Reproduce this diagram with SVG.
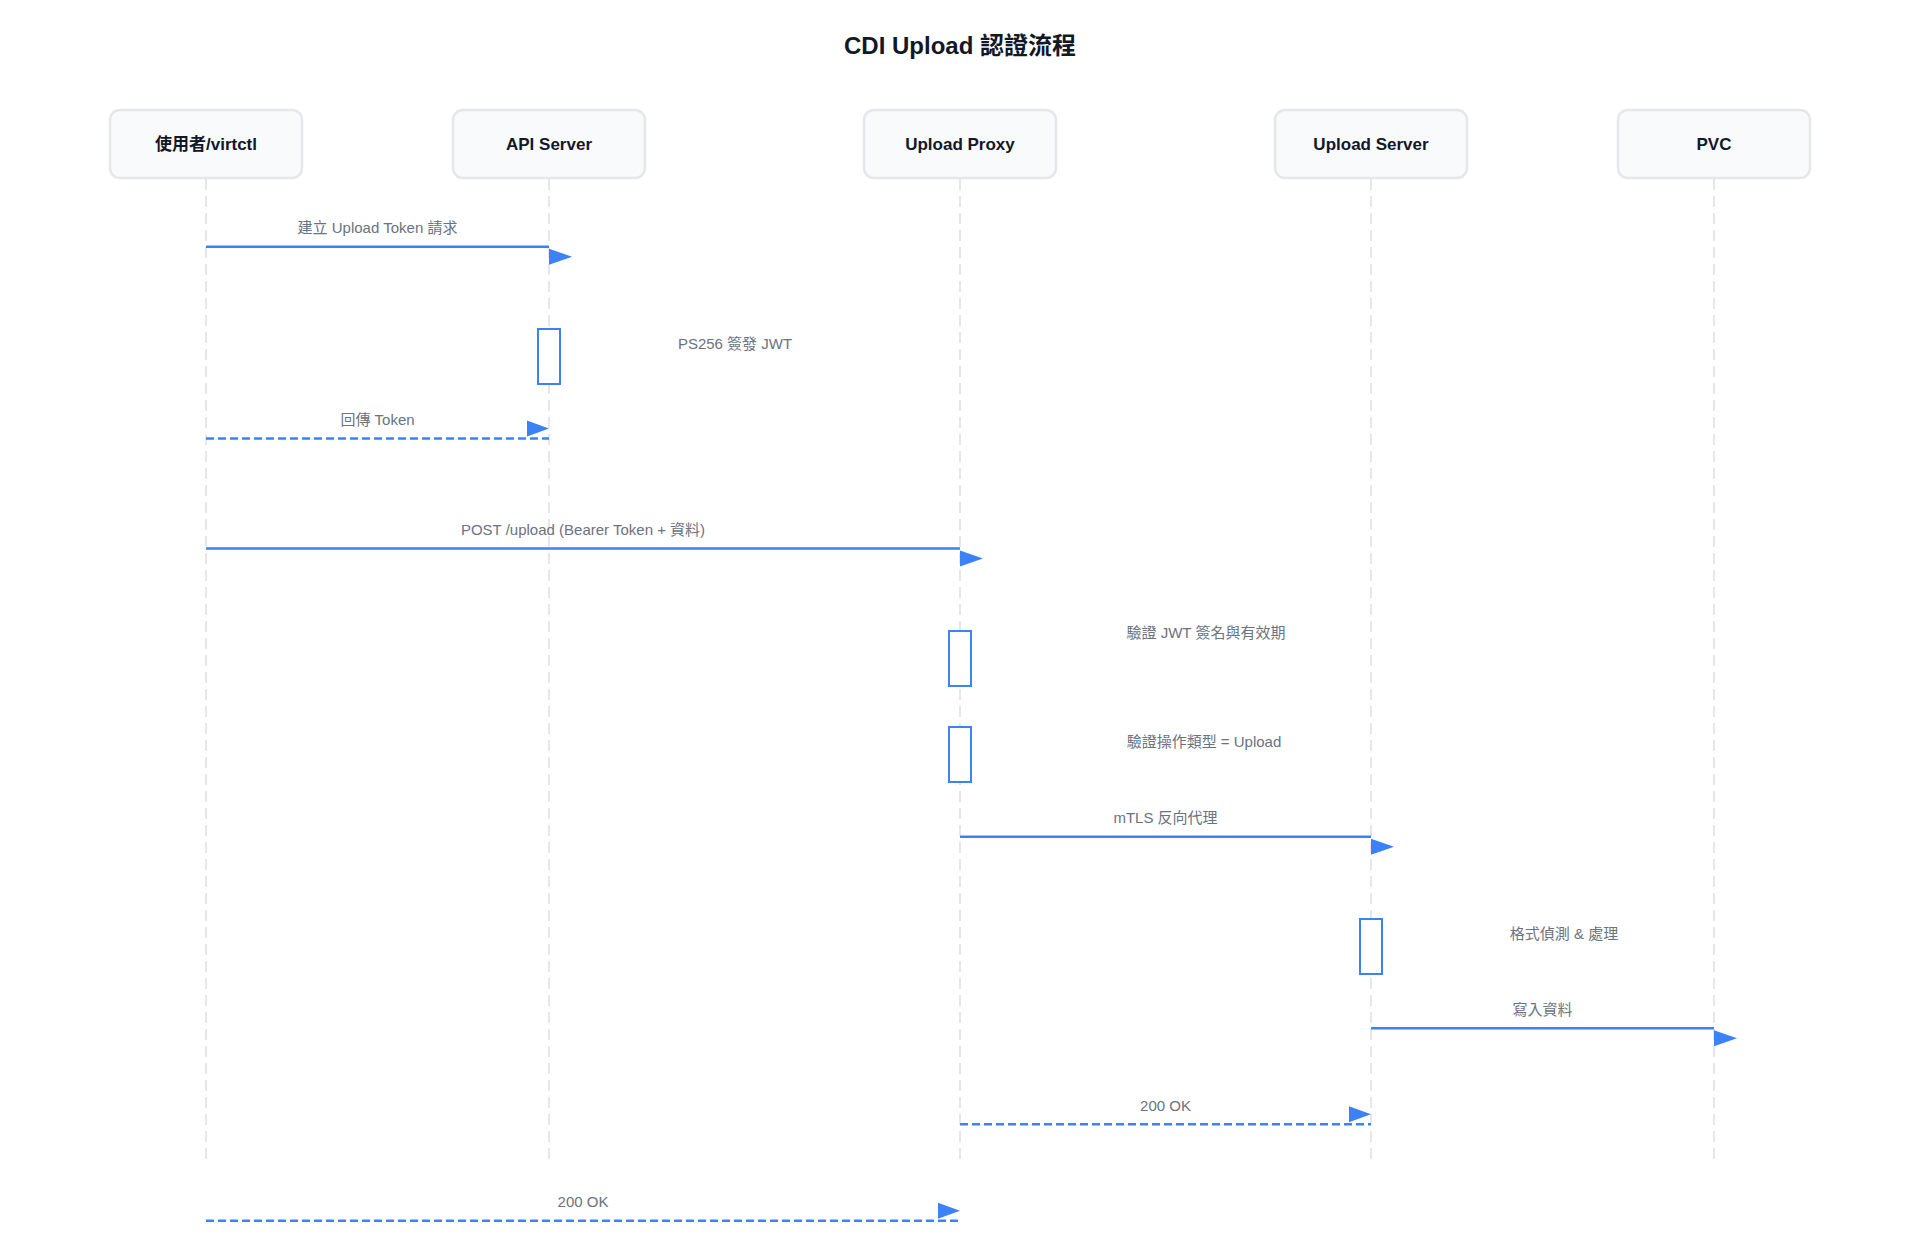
<svg xmlns="http://www.w3.org/2000/svg" width="1920" height="1235" viewBox="0 0 1920 1235">
<style>
text{font-family:"Liberation Sans","Noto Sans CJK TC",sans-serif}
.title{font-size:24px;font-weight:bold;fill:#111827}
.box{fill:#f9fafb;stroke:#e5e7eb;stroke-width:2.5}
.nlabel{font-size:17px;font-weight:bold;fill:#111827}
.life{stroke:#e5e7eb;stroke-width:2;stroke-dasharray:11 6}
.msg{stroke:#3b82f6;stroke-width:2.5;fill:none}
.ret{stroke-dasharray:8 4}
.mlabel{font-size:15px;fill:#6b7280;text-anchor:middle}
.act{fill:#ffffff;stroke:#3b82f6;stroke-width:2}
</style>
<defs>
<marker id="arr" markerUnits="userSpaceOnUse" viewBox="0 0 24 20" markerWidth="24" markerHeight="20" refX="0" refY="0" orient="0" overflow="visible">
<path d="M0,2 L23,10 L0,18 Z" fill="#3b82f6"/>
</marker>
<marker id="arrRet" markerUnits="userSpaceOnUse" viewBox="-24 -20 24 20" markerWidth="24" markerHeight="20" refX="0" refY="0" orient="0" overflow="visible">
<path d="M-22,-18 L0,-10 L-22,-2 Z" fill="#3b82f6"/>
</marker>
</defs>
<rect width="1920" height="1235" fill="#ffffff"/>
<text class="title" x="960" y="54" text-anchor="middle">CDI Upload 認證流程</text>

<g id="lifelines">
<line class="life" x1="206" y1="179" x2="206" y2="1161"/>
<line class="life" x1="549" y1="179" x2="549" y2="1161"/>
<line class="life" x1="960" y1="179" x2="960" y2="1161"/>
<line class="life" x1="1371" y1="179" x2="1371" y2="1161"/>
<line class="life" x1="1714" y1="179" x2="1714" y2="1161"/>
</g>

<g id="node-user"><rect class="box" x="110" y="110" width="192" height="68" rx="10"/><text class="nlabel" x="206" y="150" text-anchor="middle">使用者/virtctl</text></g>
<g id="node-api"><rect class="box" x="453" y="110" width="192" height="68" rx="10"/><text class="nlabel" x="549" y="150" text-anchor="middle">API Server</text></g>
<g id="node-proxy"><rect class="box" x="864" y="110" width="192" height="68" rx="10"/><text class="nlabel" x="960" y="150" text-anchor="middle">Upload Proxy</text></g>
<g id="node-server"><rect class="box" x="1275" y="110" width="192" height="68" rx="10"/><text class="nlabel" x="1371" y="150" text-anchor="middle">Upload Server</text></g>
<g id="node-pvc"><rect class="box" x="1618" y="110" width="192" height="68" rx="10"/><text class="nlabel" x="1714" y="150" text-anchor="middle">PVC</text></g>

<g id="activations">
<rect class="act" x="538" y="329" width="22" height="55"/>
<rect class="act" x="949" y="631" width="22" height="55"/>
<rect class="act" x="949" y="727" width="22" height="55"/>
<rect class="act" x="1360" y="919" width="22" height="55"/>
</g>

<g id="notes">
<text class="mlabel" x="735" y="349">PS256 簽發 JWT</text>
<text class="mlabel" x="1206" y="638">驗證 JWT 簽名與有效期</text>
<text class="mlabel" x="1204" y="747">驗證操作類型 = Upload</text>
<text class="mlabel" x="1564" y="939">格式偵測 &amp; 處理</text>
</g>

<g id="connectors">
<line class="msg" x1="206" y1="246.7" x2="549" y2="246.7" marker-end="url(#arr)"/>
<text class="mlabel" x="377.5" y="233">建立 Upload Token 請求</text>

<line class="msg ret" x1="206" y1="438.5" x2="549" y2="438.5" marker-end="url(#arrRet)"/>
<text class="mlabel" x="377.5" y="425">回傳 Token</text>

<line class="msg" x1="206" y1="548.5" x2="960" y2="548.5" marker-end="url(#arr)"/>
<text class="mlabel" x="583" y="535">POST /upload (Bearer Token + 資料)</text>

<line class="msg" x1="960" y1="836.7" x2="1371" y2="836.7" marker-end="url(#arr)"/>
<text class="mlabel" x="1165.5" y="823">mTLS 反向代理</text>

<line class="msg" x1="1371" y1="1028.3" x2="1714" y2="1028.3" marker-end="url(#arr)"/>
<text class="mlabel" x="1542.5" y="1015">寫入資料</text>

<line class="msg ret" x1="960" y1="1124.3" x2="1371" y2="1124.3" marker-end="url(#arrRet)"/>
<text class="mlabel" x="1165.5" y="1111">200 OK</text>

<line class="msg ret" x1="206" y1="1220.7" x2="960" y2="1220.7" marker-end="url(#arrRet)"/>
<text class="mlabel" x="583" y="1207">200 OK</text>
</g>
</svg>
